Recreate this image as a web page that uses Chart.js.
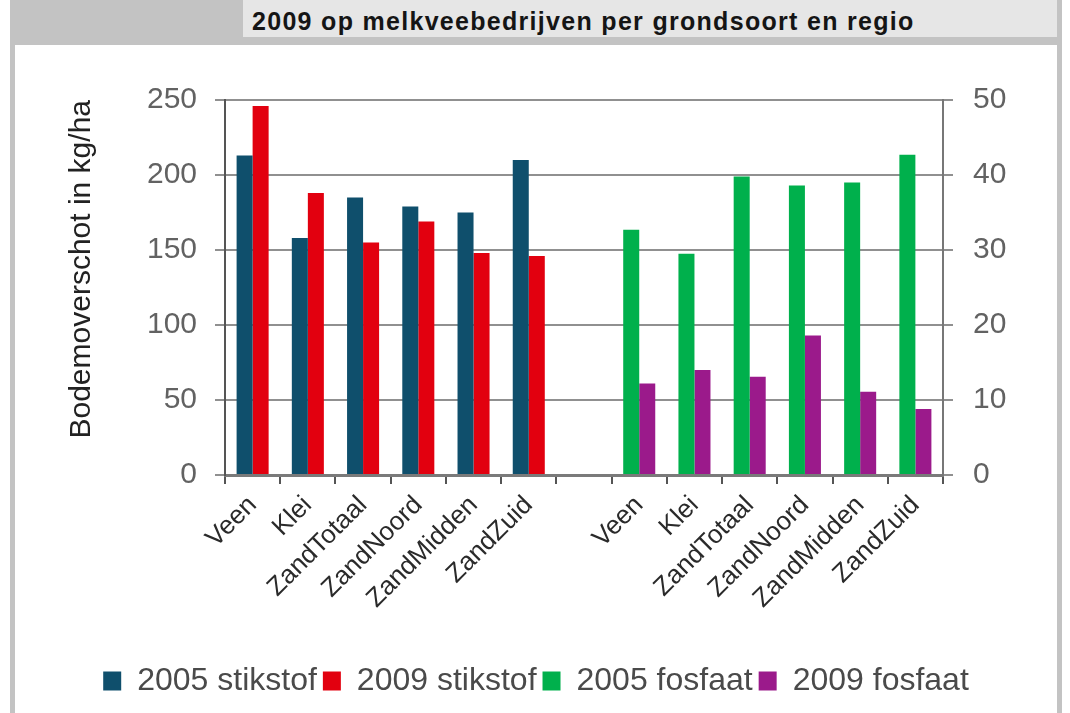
<!DOCTYPE html>
<html>
<head>
<meta charset="utf-8">
<script src="https://cdn.jsdelivr.net/npm/chart.js@4.4.1/dist/chart.umd.min.js"></script>
<style>
  html, body { margin: 0; padding: 0; background: #fff; }
  body { width: 1070px; height: 713px; position: relative; overflow: hidden; font-family: "Liberation Sans", Arial, sans-serif; }
  #topband { position: absolute; left: 10px; top: 0; width: 1052px; height: 44px; background: #c3c3c3; }
  #title { position: absolute; left: 243px; top: 0; width: 814px; height: 37px; background: #e6e6e6;
           font-weight: bold; font-size: 25px; letter-spacing: 1.3px; line-height: 42px; color: #151515; padding-left: 9px; box-sizing: border-box; }
  #panel { position: absolute; left: 10px; top: 40px; width: 1052px; height: 700px; background: #fff;
           border-left: 5px solid #c3c3c3; border-right: 5px solid #c3c3c3; border-top: 5px solid #c3c3c3; box-sizing: border-box; }
  #chart { position: absolute; left: 15px; top: 45px; }
</style>
</head>
<body>
<div id="topband"></div>
<div id="title">2009 op melkveebedrijven per grondsoort en regio</div>
<div id="panel"></div>
<canvas id="chart" width="1042" height="668"></canvas>
<script>
// Categories: two groups of regions with an empty slot between them
const regions = ['Veen', 'Klei', 'ZandTotaal', 'ZandNoord', 'ZandMidden', 'ZandZuid'];
const labels = [...regions, '', ...regions];

// Bodemoverschot stikstof (left axis, kg/ha)
const stikstof2005 = [213, 158, 185, 179, 175, 210];
const stikstof2009 = [246, 188, 155, 169, 148, 146];

// Bodemoverschot fosfaat (right axis, kg/ha)
const fosfaat2005 = [32.7, 29.5, 39.8, 38.6, 39.0, 42.7];
const fosfaat2009 = [12.2, 14.0, 13.1, 18.6, 11.1, 8.8];

const gap = [null];
const empty = regions.map(() => null);

const fontFamily = '"Liberation Sans", Arial, sans-serif';
const tickColor = '#626262';
const gridColor = '#909090';

new Chart(document.getElementById('chart').getContext('2d'), {
    type: 'bar',
    data: {
        labels: labels,
        datasets: [
            { label: '2005 stikstof', data: [...stikstof2005, ...gap, ...empty], backgroundColor: '#0f4f6c', yAxisID: 'y' },
            { label: '2009 stikstof', data: [...stikstof2009, ...gap, ...empty], backgroundColor: '#e2000f', yAxisID: 'y' },
            { label: '2005 fosfaat', data: [...empty, ...gap, ...fosfaat2005], backgroundColor: '#00b04c', yAxisID: 'y1' },
            { label: '2009 fosfaat', data: [...empty, ...gap, ...fosfaat2009], backgroundColor: '#9b1a8b', yAxisID: 'y1' }
        ]
    },
    options: {
        responsive: false,
        animation: false,
        skipNull: true,
        categoryPercentage: 0.58,
        barPercentage: 1.0,
        layout: { padding: { top: 55, left: 0, right: 0, bottom: 6 } },
        plugins: {
            legend: {
                position: 'bottom',
                labels: {
                    boxWidth: 18,
                    boxHeight: 19,
                    padding: 6,
                    color: '#4a4a4a',
                    font: { family: fontFamily, size: 32 }
                }
            },
            tooltip: { enabled: false }
        },
        scales: {
            x: {
                afterFit: (s) => { s.height = 184; },
                grid: { drawOnChartArea: false, drawTicks: true, tickLength: 9, color: '#555', lineWidth: 2 },
                border: { color: '#7a7a7a', width: 3 },
                ticks: {
                    minRotation: 45,
                    maxRotation: 45,
                    autoSkip: false,
                    padding: 6,
                    color: '#2a2a2a',
                    font: { family: fontFamily, size: 26 }
                }
            },
            y: {
                position: 'left',
                min: 0,
                max: 250,
                afterFit: (s) => { s.width = 210; },
                ticks: { stepSize: 50, padding: 18, color: tickColor, font: { family: fontFamily, size: 30 } },
                grid: { color: gridColor, lineWidth: 2, tickLength: 10 },
                border: { color: '#555', width: 2 },
                title: {
                    display: true,
                    text: 'Bodemoverschot in kg/ha',
                    align: 'end',
                    color: '#222',
                    padding: { top: 49, bottom: 0 },
                    font: { family: fontFamily, size: 30 }
                }
            },
            y1: {
                position: 'right',
                min: 0,
                max: 50,
                afterFit: (s) => { s.width = 114; },
                ticks: { stepSize: 10, padding: 20, color: tickColor, font: { family: fontFamily, size: 30 } },
                grid: { drawOnChartArea: false, color: gridColor, lineWidth: 2, tickLength: 10 },
                border: { color: '#777', width: 2 }
            }
        }
    }
});
</script>
</body>
</html>
